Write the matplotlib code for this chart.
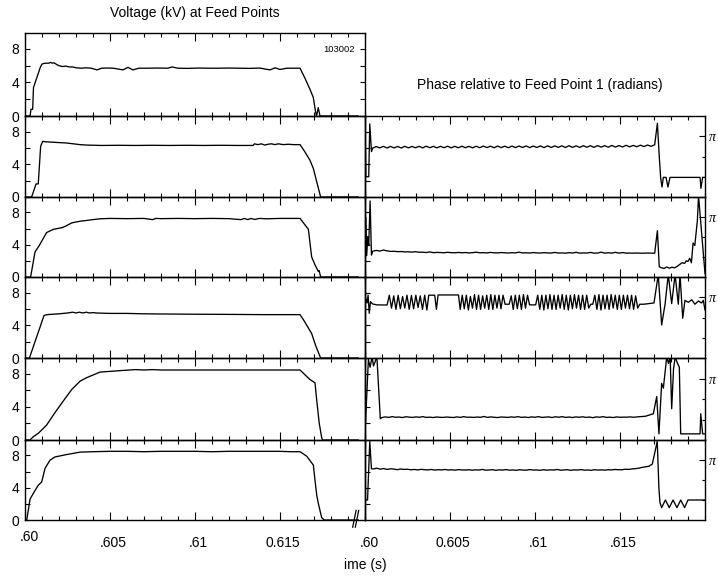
import numpy as np
import matplotlib
matplotlib.use('Agg')
import matplotlib.pyplot as plt
from matplotlib.ticker import MultipleLocator

plt.rcParams['font.family'] = ['Liberation Sans', 'DejaVu Sans']

# ============================================================
# Voltage at feed points (time in ms, kV)
# ============================================================
V1_T = [600.0, 600.30, 600.35, 600.45, 600.50, 600.70, 600.90, 601.00, 601.20, 601.40,
        601.50, 601.60, 601.70, 601.90, 602.00, 602.20, 602.40, 602.60, 602.80, 603.00,
        603.30, 603.60, 603.90, 604.24, 604.50, 604.80, 605.20, 605.76, 606.06, 606.35,
        606.70, 607.20, 607.80, 608.40, 608.65, 609.00, 609.60, 610.20, 610.80, 611.40,
        612.00, 612.60, 613.20, 613.80, 614.41, 614.71, 615.00, 615.40, 615.80, 616.18,
        616.47, 616.76, 616.96, 617.10, 617.15, 617.25, 617.35, 619.60]
V1_V = [0, 0, 0.8, 0.8, 3.4, 4.6, 5.8, 6.2, 6.3, 6.3,
        6.4, 6.3, 6.35, 6.1, 6.0, 5.9, 5.95, 5.85, 5.85, 5.75,
        5.7, 5.75, 5.7, 5.5, 5.7, 5.72, 5.7, 5.5, 5.8, 5.5,
        5.7, 5.7, 5.72, 5.7, 5.85, 5.7, 5.68, 5.72, 5.7, 5.7,
        5.72, 5.7, 5.68, 5.72, 5.5, 5.75, 5.55, 5.7, 5.7, 5.7,
        4.5, 3.2, 2.2, 0.4, 0.0, 1.0, 0.0, 0.0]

V2_T = [600.0, 600.39, 600.65, 600.78, 600.92, 601.04, 601.2, 601.6, 602.0, 602.45,
        603.24, 603.6, 604.5, 605.5, 606.5, 607.5, 608.5, 609.5, 610.5, 611.5,
        612.5, 613.42, 613.5, 613.7, 613.9, 614.1, 614.3, 614.5, 614.7, 614.9,
        615.2, 615.5, 615.8, 616.18, 616.47, 616.76, 616.96, 617.39, 619.6]
V2_V = [0, 0, 1.6, 1.6, 6.2, 6.8, 6.75, 6.7, 6.65, 6.6,
        6.4, 6.35, 6.3, 6.32, 6.3, 6.32, 6.3, 6.32, 6.3, 6.32,
        6.3, 6.3, 6.5, 6.4, 6.5, 6.35, 6.45, 6.5, 6.4, 6.5,
        6.4, 6.45, 6.4, 6.4, 5.5, 4.5, 3.5, 0, 0]

V3_T = [600.0, 600.33, 600.59, 600.84, 601.27, 601.67, 602.16, 602.4, 602.75, 603.24,
        604.0, 604.41, 605.0, 606.0, 607.0, 607.5, 607.7, 608.0, 609.0, 610.0,
        611.0, 612.0, 612.7, 612.9, 613.1, 613.3, 613.5, 613.8, 614.2, 615.0,
        616.18, 616.67, 616.86, 617.06, 617.25, 617.3, 617.39, 619.6]
V3_V = [0, 0, 3.1, 3.9, 5.5, 5.9, 6.1, 6.3, 6.7, 6.9,
        7.1, 7.2, 7.25, 7.22, 7.25, 7.1, 7.25, 7.22, 7.25, 7.22,
        7.25, 7.22, 7.1, 7.25, 7.1, 7.25, 7.12, 7.25, 7.2, 7.25,
        7.25, 5.9, 2.5, 1.5, 0.7, 0.8, 0, 0]

V4_T = [600.0, 600.26, 601.12, 601.3, 602.0, 602.5, 602.8, 603.0, 603.2, 603.4,
        603.6, 603.8, 604.0, 604.2, 605.0, 606.0, 607.0, 608.0, 610.0, 612.0,
        614.0, 616.18, 616.4, 616.86, 617.1, 617.39, 619.6]
V4_V = [0, 0, 5.2, 5.3, 5.4, 5.5, 5.6, 5.5, 5.6, 5.5,
        5.6, 5.5, 5.55, 5.5, 5.45, 5.45, 5.4, 5.38, 5.35, 5.33,
        5.3, 5.3, 4.6, 3.0, 1.5, 0, 0]

V5_T = [600.0, 600.29, 600.49, 600.78, 601.27, 601.76, 602.25, 602.75, 603.24, 603.6,
        604.41, 605.78, 606.5, 607.0, 607.5, 608.0, 609.0, 610.0, 611.0, 612.0,
        613.0, 614.0, 615.0, 616.18, 616.76, 617.06, 617.16, 617.31, 617.45, 617.5,
        619.6]
V5_V = [0, 0, 0.4, 0.8, 1.8, 3.3, 4.7, 6.1, 7.1, 7.5,
        8.2, 8.4, 8.5, 8.45, 8.5, 8.45, 8.45, 8.45, 8.45, 8.45,
        8.45, 8.45, 8.45, 8.45, 7.3, 6.9, 4.8, 2.0, 0.3, 0,
        0]

V6_T = [600.0, 600.1, 600.3, 600.49, 600.78, 600.98, 601.18, 601.47, 601.76, 602.45,
        603.24, 604.0, 605.0, 606.0, 607.0, 608.0, 609.0, 610.0, 611.0, 612.0,
        613.0, 614.0, 615.0, 615.6, 616.18, 616.57, 616.96, 617.06, 617.16, 617.25,
        617.45, 617.6, 619.6]
V6_V = [0, 0, 2.6, 3.3, 4.3, 4.7, 6.4, 7.4, 7.8, 8.1,
        8.4, 8.45, 8.5, 8.5, 8.45, 8.5, 8.5, 8.5, 8.45, 8.5,
        8.5, 8.5, 8.5, 8.45, 8.45, 7.9, 6.8, 4.9, 3.1, 2.1,
        0.3, 0, 0]

# ============================================================
# Phase relative to feed point 1 (radians)
# head / evenly sampled body / tail
# ============================================================
R1_HEAD_T = [600.0, 600.05, 600.22, 600.28, 600.38]
R1_HEAD_V = [4.7, 0.0, 0.0, 4.1, 1.95]
R1_T0, R1_DT = 600.45, 0.21
R1_BODY = [2.22, 2.34, 2.24, 2.36, 2.23, 2.35, 2.24, 2.35, 2.23, 2.36,
           2.24, 2.35, 2.25, 2.36, 2.24, 2.37, 2.25, 2.36, 2.24, 2.36,
           2.25, 2.37, 2.24, 2.36, 2.25, 2.37, 2.25, 2.36, 2.24, 2.37,
           2.25, 2.38, 2.26, 2.37, 2.25, 2.38, 2.26, 2.37, 2.25, 2.38,
           2.26, 2.38, 2.27, 2.39, 2.26, 2.38, 2.27, 2.39, 2.26, 2.40,
           2.27, 2.39, 2.28, 2.40, 2.27, 2.41, 2.28, 2.40, 2.27, 2.41,
           2.29, 2.41, 2.28, 2.42, 2.30, 2.41, 2.29, 2.43, 2.30, 2.42,
           2.31, 2.44, 2.32, 2.43, 2.33, 2.45, 2.34, 2.46, 2.36, 2.48]
R1_TAIL_T = [617.20, 617.31, 617.39, 617.47, 617.55, 617.71, 617.82, 617.94,
             619.71, 619.76, 619.86, 620.0]
R1_TAIL_V = [4.15, 1.56, -0.05, -0.8, -0.05, -0.05, -0.8, -0.05,
             -0.05, -0.9, -0.05, -0.05]

R2_HEAD_T = [600.0, 600.05, 600.1, 600.16, 600.22, 600.3, 600.38]
R2_HEAD_V = [0.0, 3.1, 0.1, 1.6, 0.9, 4.4, 0.15]
R2_T0, R2_DT = 600.45, 0.21
R2_BODY = [0.45, 0.52, 0.46, 0.55, 0.48, 0.44, 0.45, 0.42, 0.43, 0.40,
           0.41, 0.38, 0.42, 0.37, 0.38, 0.35, 0.40, 0.34, 0.36, 0.35,
           0.33, 0.37, 0.34, 0.33, 0.36, 0.33, 0.35, 0.32, 0.34, 0.38,
           0.33, 0.34, 0.32, 0.36, 0.33, 0.32, 0.35, 0.33, 0.31, 0.34,
           0.32, 0.38, 0.32, 0.33, 0.31, 0.35, 0.32, 0.31, 0.34, 0.32,
           0.31, 0.36, 0.31, 0.32, 0.30, 0.34, 0.31, 0.37, 0.30, 0.32,
           0.31, 0.36, 0.30, 0.31, 0.38, 0.30, 0.34, 0.30, 0.37, 0.30,
           0.35, 0.30, 0.31, 0.30, 0.31, 0.30, 0.30, 0.31, 0.30, 0.30]
R2_TAIL_T = [617.20, 617.31, 617.45, 617.6, 617.75, 617.9, 618.05, 618.2, 618.35, 618.5,
             618.65, 618.8, 618.9, 619.0, 619.1, 619.2, 619.3, 619.4, 619.55, 619.62,
             620.0]
R2_TAIL_V = [2.07, -0.77, -0.85, -0.9, -0.78, -0.88, -0.8, -0.85, -0.75, -0.6,
             -0.45, -0.5, -0.3, -0.35, -0.1, -0.45, 1.1, 0.9, 2.85, 4.8,
             -1.3]

R3_HEAD_T = [600.0, 600.06, 600.12, 600.18, 600.25, 600.32, 600.45, 600.7, 601.2, 601.3]
R3_HEAD_V = [2.5, 3.0, 2.7, 3.3, 1.9, 2.8, 2.62, 2.55, 2.54, 2.54]
R3_Z1_T0, R3_Z1_DT = 601.43, 0.13
R3_Z1 = [3.3, 2.3, 3.25, 2.2, 3.3, 2.25, 3.2, 2.3, 3.3, 2.2,
         3.28, 2.25, 3.3, 2.35, 3.25, 2.2, 3.3, 2.15]
R3_MID_T = [603.75, 604.1, 604.2, 604.3, 605.5]
R3_MID_V = [3.3, 3.3, 2.2, 3.32, 3.32]
R3_T0, R3_DT = 605.6, 0.12
R3_BODY = [2.2, 3.3, 2.25, 3.3, 2.15, 3.2, 2.3, 3.35, 2.2, 3.3,
           2.2, 3.25, 2.3, 3.3, 2.2, 3.35, 2.2, 3.3, 2.3, 3.3,
           2.25, 3.3, 2.6, 2.6, 2.6, 3.25, 2.2, 3.3, 2.25, 3.3,
           2.2, 3.35, 2.3, 3.3, 2.55, 2.55, 2.55, 2.55, 3.3, 2.2,
           3.3, 2.15, 3.3, 2.25, 3.35, 2.2, 3.3, 2.2, 3.3, 2.3,
           3.35, 2.2, 3.3, 2.15, 3.3, 2.25, 3.35, 2.3, 3.3, 2.2,
           3.3, 2.2, 3.3, 2.3, 2.6, 2.6, 3.3, 2.2, 3.35, 2.15,
           3.3, 2.25, 3.3, 2.2, 3.35, 2.3, 3.3, 2.2, 3.3, 2.2,
           3.3, 2.3, 3.3, 2.25, 3.3, 2.2, 3.25, 2.3, 2.6, 2.6]
R3_TAIL_T = [616.4, 617.0, 617.25, 617.45, 617.65, 617.84, 618.04, 618.24, 618.43, 618.53,
             618.69, 618.82, 619.02, 619.22, 619.41, 619.61, 619.8, 619.9, 620.0]
R3_TAIL_V = [2.6, 2.7, 4.9, 0.99, 2.6, 4.9, 2.65, 4.9, 2.6, 4.9,
             1.51, 2.9, 2.75, 2.95, 2.6, 2.85, 2.7, 2.9, 2.15]

R4_HEAD_T = [600.0, 600.2, 600.3, 600.42, 600.5, 600.7, 600.9]
R4_HEAD_V = [-1.1, 4.6, 4.0, 4.8, 4.1, 4.8, 0.06]
R4_T0, R4_DT = 601.0, 0.2
R4_BODY = [0.15, 0.2, 0.16, 0.22, 0.17, 0.19, 0.15, 0.21, 0.18, 0.16,
           0.2, 0.17, 0.22, 0.16, 0.18, 0.15, 0.19, 0.17, 0.16, 0.19,
           0.17, 0.15, 0.2, 0.16, 0.22, 0.17, 0.18, 0.16, 0.19, 0.17,
           0.23, 0.16, 0.2, 0.17, 0.15, 0.19, 0.18, 0.16, 0.2, 0.17,
           0.22, 0.16, 0.19, 0.15, 0.2, 0.17, 0.22, 0.16, 0.18, 0.2,
           0.15, 0.21, 0.17, 0.22, 0.16, 0.19, 0.15, 0.2, 0.17, 0.21,
           0.16, 0.19, 0.14, 0.2, 0.17, 0.22, 0.16, 0.18, 0.15, 0.2,
           0.17, 0.18, 0.18, 0.2, 0.17, 0.2]
R4_TAIL_T = [616.5, 616.96, 617.16, 617.29, 617.45, 617.55, 617.75, 617.85, 617.95, 618.04,
             618.15, 618.25, 618.35, 618.49, 618.57, 619.71, 619.75, 619.86, 620.0]
R4_TAIL_V = [0.25, 0.44, 1.76, -1.1, 2.77, 2.4, 4.8, 4.3, 4.8, 0.83,
             3.9, 4.8, 4.4, 4.0, -1.1, -1.1, 0.44, -1.1, -1.1]

R5_HEAD_T = [600.0, 600.15, 600.28, 600.38]
R5_HEAD_V = [0.0, 0.0, 4.6, 2.45]
R5_T0, R5_DT = 600.5, 0.2
R5_BODY = [2.44, 2.5, 2.42, 2.47, 2.4, 2.45, 2.43, 2.38, 2.44, 2.4,
           2.42, 2.37, 2.4, 2.36, 2.41, 2.38, 2.36, 2.4, 2.35, 2.38,
           2.36, 2.4, 2.35, 2.38, 2.34, 2.39, 2.36, 2.35, 2.38, 2.34,
           2.37, 2.35, 2.4, 2.34, 2.36, 2.38, 2.33, 2.37, 2.35, 2.39,
           2.34, 2.36, 2.33, 2.38, 2.35, 2.34, 2.39, 2.35, 2.36, 2.33,
           2.38, 2.34, 2.37, 2.35, 2.4, 2.34, 2.36, 2.38, 2.33, 2.37,
           2.35, 2.39, 2.34, 2.36, 2.33, 2.38, 2.35, 2.37, 2.34, 2.38,
           2.36, 2.4, 2.38, 2.37, 2.42, 2.4, 2.44, 2.46, 2.5, 2.56]
R5_TAIL_T = [616.7, 616.9, 617.19, 617.29, 617.35, 617.45, 617.67, 617.9, 618.12, 618.35,
             618.57, 618.8, 619.0, 620.0]
R5_TAIL_V = [2.65, 2.82, 4.6, 0.9, -0.2, -0.6, 0.0, -0.6, 0.0, -0.6,
             0.0, -0.6, 0.0, 0.0]

X_MAJOR = [0.600, 0.605, 0.610, 0.615]
X_LABELS_LEFT = ['.60', '.605', '.61', '0.615']
X_LABELS_RIGHT = ['.60', '0.605', '.61', '.615']

# ── layout (pixels of the 718x579 figure) ───────────────────
W, H = 718, 579
EDGES = [33, 116, 197, 277, 358, 440, 520]
XL, XR, XE = 25, 365, 705


def body(t0, dt, vals):
    return t0 + dt * np.arange(len(vals))


def style_x(ax):
    ax.set_xlim(0.600, 0.620)
    ax.set_xticks(X_MAJOR)
    ax.xaxis.set_minor_locator(MultipleLocator(0.001))
    ax.tick_params(axis='x', which='both', direction='in', top=True, bottom=True,
                   labelbottom=False, width=0.8)
    ax.tick_params(axis='x', which='major', length=5.5)
    ax.tick_params(axis='x', which='minor', length=3)
    for s in ax.spines.values():
        s.set_linewidth(1.0)
    ax.patch.set_visible(False)


def bottom_labels(ax, labels, first_up=0):
    for i, (x, lab) in enumerate(zip(X_MAJOR, labels)):
        dy = -11.5 + (first_up if i == 0 else 0)
        dx = 3.5 if i == 0 else 2.2
        ax.annotate(lab, xy=(x, 0), xycoords=('data', 'axes fraction'),
                    xytext=(dx, dy), textcoords='offset points',
                    ha='center', va='top', fontsize=10)


fig = plt.figure(figsize=(W / 100, H / 100), dpi=100)

volt = [(V1_T, V1_V), (V2_T, V2_V), (V3_T, V3_V), (V4_T, V4_V), (V5_T, V5_V), (V6_T, V6_V)]
left_axes = []
for i, (tt, vv) in enumerate(volt):
    top, bot = EDGES[i], EDGES[i + 1]
    ax = fig.add_axes([XL / W, 1 - bot / H, (XR - XL) / W, (bot - top) / H])
    ax.plot(np.array(tt) / 1000, vv, color='black', lw=0.95)
    style_x(ax)
    ax.set_ylim(0, 9.9)
    ax.set_yticks([0, 4, 8])
    ax.set_yticks([2, 6], minor=True)
    ax.tick_params(axis='y', which='both', direction='in', left=True, right=(i == 0),
                   length=3.5, width=0.8, labelsize=10, pad=4)
    if i > 0:
        sec = ax.secondary_yaxis('right')
        sec.set_yticks([2, 4, 6, 8])
        sec.tick_params(axis='y', direction='out', length=3.5, width=0.8, labelright=False)
    left_axes.append(ax)

phase = [
    (R1_HEAD_T, R1_HEAD_V, [(R1_T0, R1_DT, R1_BODY)], R1_TAIL_T, R1_TAIL_V),
    (R2_HEAD_T, R2_HEAD_V, [(R2_T0, R2_DT, R2_BODY)], R2_TAIL_T, R2_TAIL_V),
    (R3_HEAD_T, R3_HEAD_V, [(R3_Z1_T0, R3_Z1_DT, R3_Z1), (R3_MID_T, R3_MID_V),
                            (R3_T0, R3_DT, R3_BODY)], R3_TAIL_T, R3_TAIL_V),
    (R4_HEAD_T, R4_HEAD_V, [(R4_T0, R4_DT, R4_BODY)], R4_TAIL_T, R4_TAIL_V),
    (R5_HEAD_T, R5_HEAD_V, [(R5_T0, R5_DT, R5_BODY)], R5_TAIL_T, R5_TAIL_V),
]
right_axes = []
for i, (ht, hv, parts, tt, tv) in enumerate(phase):
    top, bot = EDGES[i + 1], EDGES[i + 2]
    ax = fig.add_axes([XR / W, 1 - bot / H, (XE - XR) / W, (bot - top) / H])
    ts, vs = [np.array(ht)], [np.array(hv)]
    for p in parts:
        if len(p) == 3:
            ts.append(body(*p))
            vs.append(np.array(p[2]))
        else:
            ts.append(np.array(p[0]))
            vs.append(np.array(p[1]))
    ts.append(np.array(tt))
    vs.append(np.array(tv))
    ax.plot(np.concatenate(ts) / 1000, np.concatenate(vs), color='black', lw=0.95)
    style_x(ax)
    ax.set_ylim(-np.pi / 2, 1.5 * np.pi)
    ax.yaxis.tick_right()
    ax.set_yticks([np.pi])
    ax.set_yticks([0, np.pi / 2], minor=True)
    ax.set_yticklabels(['π'], fontfamily='Liberation Serif', fontstyle='italic', fontsize=10)
    ax.tick_params(axis='y', which='both', direction='in', left=False, right=True, width=0.8)
    ax.tick_params(axis='y', which='major', length=4, pad=3)
    ax.tick_params(axis='y', which='minor', length=2.5)
    right_axes.append(ax)

bottom_labels(left_axes[-1], X_LABELS_LEFT, first_up=4)
bottom_labels(right_axes[-1], X_LABELS_RIGHT)

# axis break mark on the left time axis
ax6 = left_axes[-1]
for x0 in (0.9638, 0.9715):
    ax6.plot([x0, x0 + 0.010], [-0.09, 0.12], transform=ax6.transAxes,
             color='black', lw=0.9, clip_on=False)

left_axes[0].text(0.97, 0.80, '103002', transform=left_axes[0].transAxes,
                  ha='right', va='center', fontsize=6.8)

fig.text(195 / W, 1 - 13 / H, 'Voltage (kV) at Feed Points', ha='center', va='center', fontsize=10)
fig.text(540 / W, 1 - 85 / H, 'Phase relative to Feed Point 1 (radians)',
         ha='center', va='center', fontsize=10)
fig.text(365 / W, 1 - 565 / H, 'ime (s)', ha='center', va='center', fontsize=10)

fig.savefig('out.png', dpi=100)
